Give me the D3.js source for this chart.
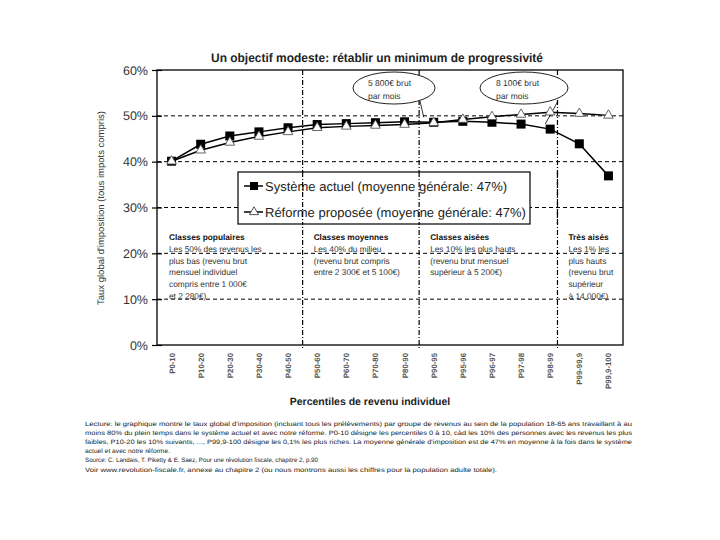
<!DOCTYPE html>
<html><head><meta charset="utf-8">
<script src="https://cdn.jsdelivr.net/npm/d3@7"></script>
<style>body{margin:0;background:#fff}svg{display:block;font-family:"Liberation Sans",Arial,sans-serif;text-rendering:geometricPrecision}</style>
</head><body><svg id="c" width="720" height="540"></svg>
<script>
const categories = ["P0-10","P10-20","P20-30","P30-40","P40-50","P50-60","P60-70","P70-80","P80-90","P90-95","P95-96","P96-97","P97-98","P98-99","P99-99,9","P99,9-100"];
const systemeActuel = [40.1,43.8,45.6,46.5,47.4,48.1,48.3,48.5,48.7,48.6,48.8,48.6,48.2,47.1,43.9,36.9];
const reformeProposee = [40.1,42.5,44.2,45.5,46.5,47.4,47.7,47.9,48.1,48.5,49.2,49.8,50.3,50.8,50.5,50.1];
const yTicks = [0,10,20,30,40,50,60];
const dividers = [5,9,13.75];
const groupNotes = [
  {at:0, lines:["Classes populaires","Les 50% des revenus les","plus bas (revenu brut","mensuel individuel","compris entre 1 000€","et 2 280€)"]},
  {at:5, lines:["Classes moyennes","Les 40% du milieu","(revenu brut compris","entre 2 300€ et 5 100€)"]},
  {at:9, lines:["Classes aisées","Les 10% les plus hauts","(revenu brut mensuel","supérieur à 5 200€)"]},
  {at:13.75, lines:["Très aisés","Les 1% les","plus hauts","(revenu brut","supérieur","à 14 000€)"]}
];
const bubbles = [{lines:["5 800€ brut","par mois"], cat:9},{lines:["8 100€ brut","par mois"], cat:13}];
const footer = [
 "Lecture: le graphique montre le taux global d'imposition (incluant tous les prélèvements) par groupe de revenus au sein de la population 18-65 ans travaillant à au",
 "moins 80% du plein temps dans le système actuel et avec notre réforme. P0-10 désigne les percentiles 0 à 10, càd les 10% des personnes avec les revenus les plus",
 "faibles, P10-20 les 10% suivants, ..., P99,9-100 désigne les 0,1% les plus riches. La moyenne générale d'imposition est de 47% en moyenne à la fois dans le système",
 "actuel et avec notre réforme.",
 "Source: C. Landais, T. Piketty & E. Saez, Pour une révolution fiscale, chapitre 2, p.90",
 "Voir www.revolution-fiscale.fr, annexe au chapitre 2 (ou nous montrons aussi les chiffres pour la population adulte totale)."
];
const footerLen = [547,547,547,85,233,412];

const svg = d3.select("#c");
const L=157, R=623, T=70, B=345;
const xi = d3.scaleLinear().domain([0,categories.length]).range([L,R]);
const xc = i => xi(i+0.5);
const y = d3.scaleLinear().domain([0,60]).range([B,T]);

svg.append("text").attr("x",377).attr("y",62).attr("text-anchor","middle")
  .attr("font-size",12.5).attr("font-weight","bold").attr("fill","#222")
  .attr("textLength",332).attr("lengthAdjust","spacingAndGlyphs")
  .text("Un objectif modeste: rétablir un minimum de progressivité");

svg.append("g").selectAll("line").data(yTicks.filter(t=>t>0&&t<60)).join("line")
  .attr("x1",L).attr("x2",R).attr("y1",d=>y(d)).attr("y2",d=>y(d))
  .attr("stroke","#000").attr("stroke-width",1).attr("stroke-dasharray","4,3");

groupNotes.forEach(g=>{
  const t = svg.append("text").attr("font-size",8.3).attr("fill","#333");
  g.lines.forEach((ln,k)=>{
    t.append("tspan").attr("x",xi(g.at)+(g.at===0?12:11)).attr("y",240+k*11.8)
      .attr("font-weight",k===0?"bold":"normal").attr("fill",k===0?"#111":"#333").text(ln);
  });
});

const lg = svg.append("g");
lg.append("rect").attr("x",238).attr("y",172).attr("width",292).attr("height",52)
  .attr("fill","#fff").attr("stroke","#000").attr("stroke-width",1.2);

svg.append("g").selectAll("line").data(dividers).join("line")
  .attr("x1",d=>xi(d)).attr("x2",d=>xi(d)).attr("y1",T).attr("y2",B+5)
  .attr("stroke","#000").attr("stroke-width",1.2).attr("stroke-dasharray","5,2,1,2");

const legendItems = [{name:"Système actuel (moyenne générale: 47%)", kind:"sq"},{name:"Réforme proposée (moyenne générale: 47%)", kind:"tri"}];
legendItems.forEach((it,k)=>{
  const yy = 186+k*26;
  lg.append("line").attr("x1",244).attr("x2",263).attr("y1",yy).attr("y2",yy).attr("stroke","#000").attr("stroke-width",1.5);
  if(it.kind==="sq") lg.append("rect").attr("x",250).attr("y",yy-4).attr("width",8).attr("height",8).attr("fill","#000");
  else lg.append("path").attr("d",d3.symbol(d3.symbolTriangle,36)()).attr("transform",`translate(254,${yy})`).attr("fill","#fff").attr("stroke","#444").attr("stroke-width",0.9);
  lg.append("text").attr("x",265).attr("y",yy+5).attr("font-size",13).attr("fill","#222").text(it.name);
});
svg.node().appendChild(lg.node());
svg.append("g").selectAll("line").data(dividers).join("line")
  .attr("x1",d=>xi(d)).attr("x2",d=>xi(d)).attr("y1",172).attr("y2",224)
  .attr("stroke","#000").attr("stroke-width",1.2).attr("stroke-dasharray","5,2,1,2");

bubbles.forEach((b,k)=>{
  const cx = k===0?394:524, cy=88;
  const px = xc(b.cat)-(k===0?10:5), py = y(systemeActuel[b.cat])-5;
  svg.append("line").attr("x1",cx+(k===0?26:34)).attr("y1",cy+13).attr("x2",px).attr("y2",py).attr("stroke","#000").attr("stroke-width",0.8);
  svg.append("ellipse").attr("cx",cx).attr("cy",cy).attr("rx",k===0?41:44).attr("ry",16).attr("fill","#fff").attr("stroke","#222").attr("stroke-width",1);
  b.lines.forEach((ln,j)=>svg.append("text").attr("x",cx-(k===0?26:28)).attr("y",cy-2+j*13).attr("font-size",8.5).attr("fill","#333").text(ln));
});

const line = d3.line().x((d,i)=>xc(i)).y(d=>y(d));
svg.append("path").datum(reformeProposee).attr("d",line).attr("fill","none").attr("stroke","#000").attr("stroke-width",1.5);
svg.append("path").datum(systemeActuel).attr("d",line).attr("fill","none").attr("stroke","#000").attr("stroke-width",1.5);
svg.append("g").selectAll("rect").data(systemeActuel).join("rect")
  .attr("x",(d,i)=>xc(i)-4.5).attr("y",d=>y(d)-4.5).attr("width",9).attr("height",9).attr("fill","#000");
svg.append("g").selectAll("path").data(reformeProposee).join("path")
  .attr("d",d3.symbol(d3.symbolTriangle,40)())
  .attr("transform",(d,i)=>`translate(${xc(i)},${y(d)})`)
  .attr("fill","#fff").attr("stroke","#555").attr("stroke-width",0.9);

svg.append("rect").attr("x",L).attr("y",T).attr("width",R-L).attr("height",B-T)
  .attr("fill","none").attr("stroke","#000").attr("stroke-width",1.3);

const ya = svg.append("g").attr("transform",`translate(${L},0)`)
  .call(d3.axisLeft(y).tickValues(yTicks).tickSize(5).tickFormat(d=>d+"%"));
ya.select(".domain").remove();
ya.selectAll(".tick line").attr("x2",-5).attr("x1",5).attr("stroke","#000").attr("stroke-width",1.2);
ya.selectAll(".tick text").attr("x",-9).attr("font-size",12.5).attr("fill","#333").attr("font-family","Liberation Sans, Arial, sans-serif");

svg.append("g").selectAll("text").data(categories).join("text")
  .attr("transform",(d,i)=>`translate(${xc(i)+3},353) rotate(-90)`)
  .attr("text-anchor","end").attr("font-size",7.8).attr("font-weight","bold").attr("fill","#555").text(d=>d);

svg.append("text").attr("x",370).attr("y",405).attr("text-anchor","middle").attr("font-size",10.5).attr("font-weight","bold").attr("fill","#222")
  .text("Percentiles de revenu individuel");
svg.append("text").attr("transform","translate(104,208) rotate(-90)").attr("text-anchor","middle").attr("font-size",9.5).attr("fill","#333")
  .text("Taux global d'imposition (tous impots compris)");

svg.append("g").selectAll("text").data(footer).join("text")
  .attr("x",85).attr("y",(d,i)=>426+i*9.1).attr("font-size",6.3).attr("fill","#222")
  .attr("textLength",(d,i)=>footerLen[i]).attr("lengthAdjust","spacingAndGlyphs").text(d=>d);
</script></body></html>
